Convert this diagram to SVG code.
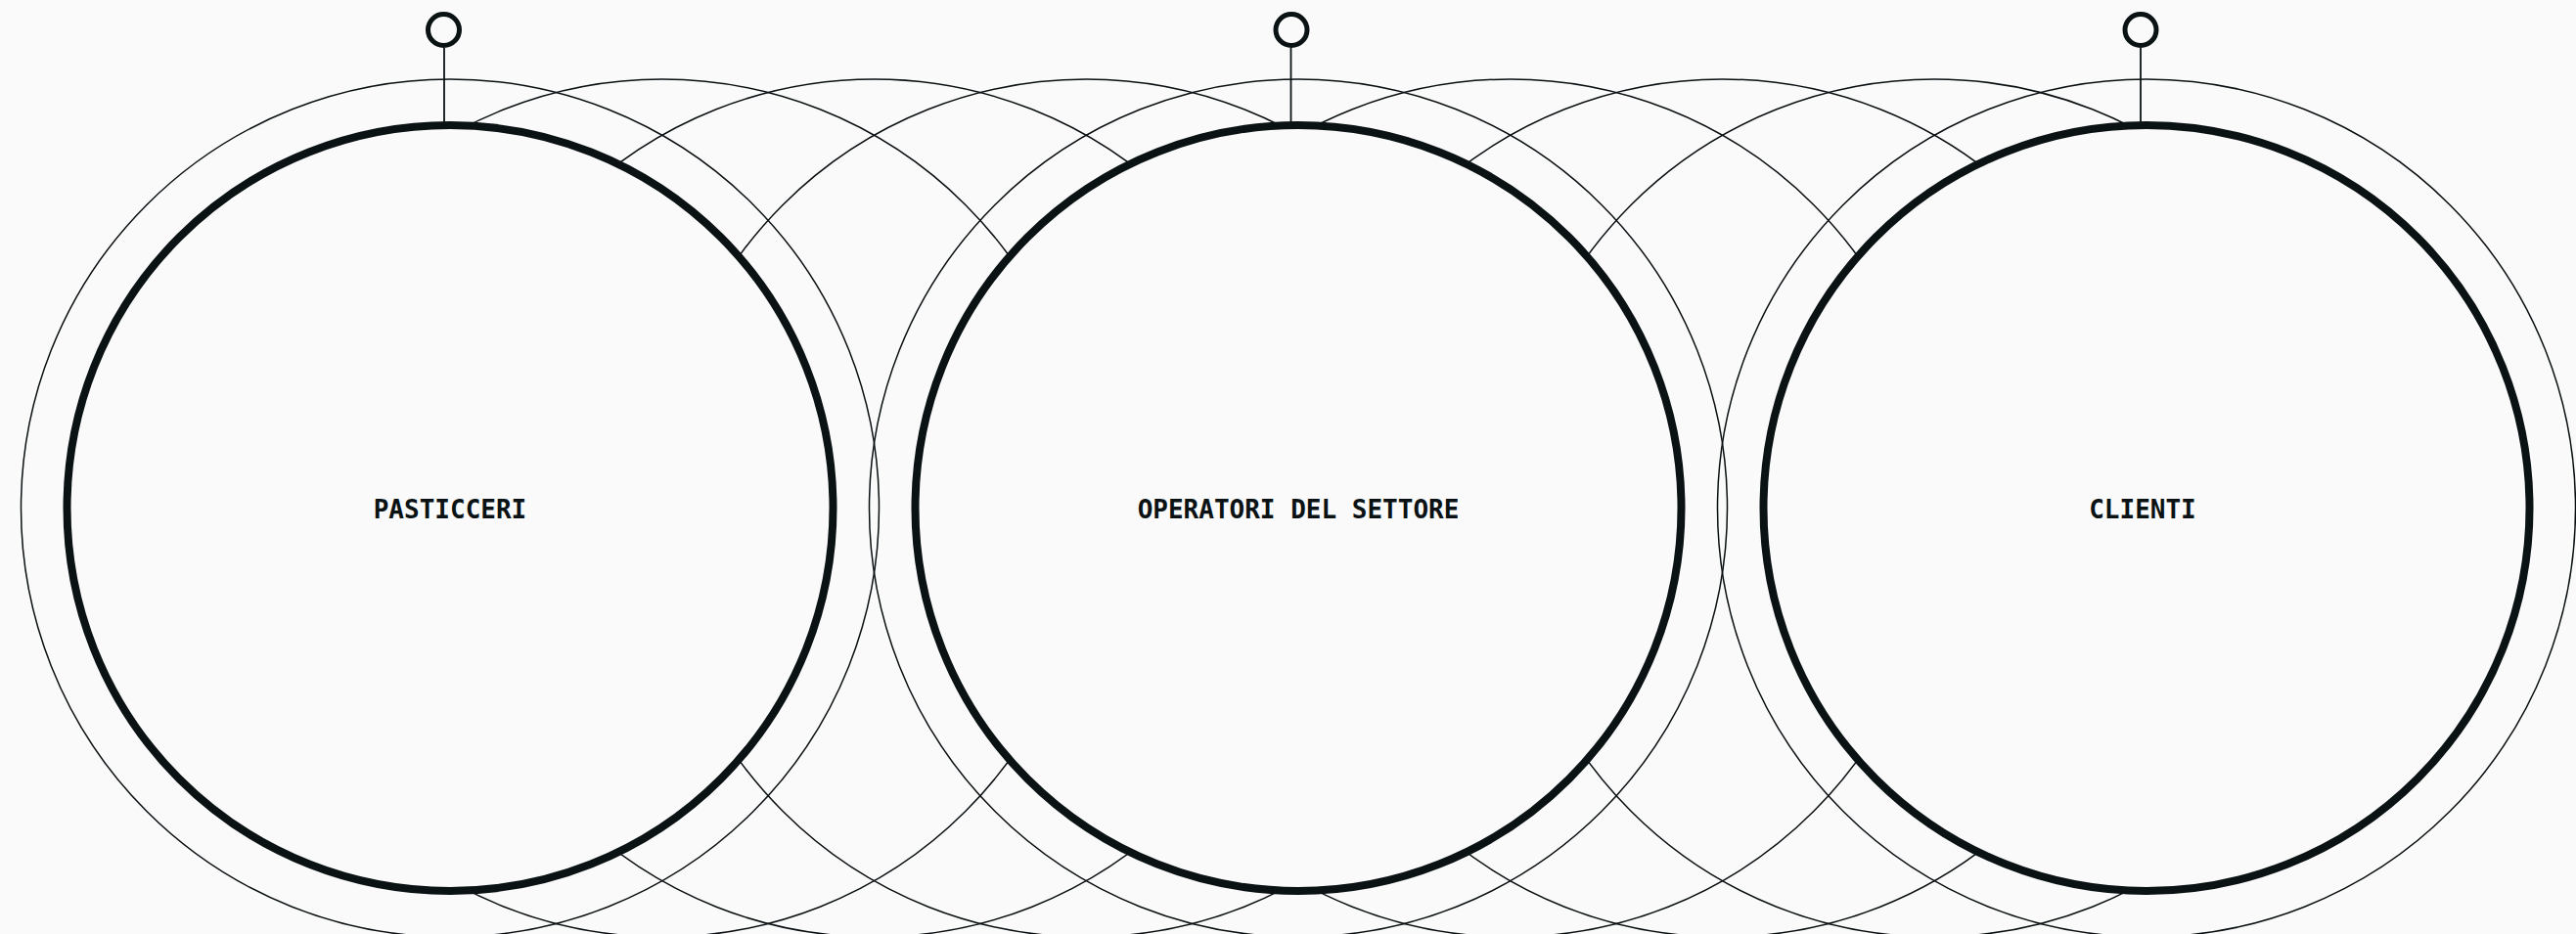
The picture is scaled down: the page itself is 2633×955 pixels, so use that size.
<svg xmlns="http://www.w3.org/2000/svg" width="2633" height="955" viewBox="0 0 2633 955">
<style>
.bg{fill:#fafafa}
.ring{fill:none;stroke:#0a0f12;stroke-width:1.5}
.node{fill:#fafafa;stroke:#0a1214;stroke-width:8}
.pin{fill:none;stroke:#0a1214;stroke-width:5}
.stem{stroke:#0a1214;stroke-width:1.8}
.label{font-family:"DejaVu Sans Mono","Liberation Mono",monospace;font-weight:bold;font-size:26px;fill:#0a1214;text-anchor:middle}
</style>
<rect class="bg" x="0" y="0" width="2633" height="955"/>
<g id="connectors">
<circle class="ring" cx="460" cy="519.5" r="438.5"/>
<circle class="ring" cx="676.75" cy="519.5" r="438.5"/>
<circle class="ring" cx="893.5" cy="519.5" r="438.5"/>
<circle class="ring" cx="1110.25" cy="519.5" r="438.5"/>
<circle class="ring" cx="1327" cy="519.5" r="438.5"/>
<circle class="ring" cx="1543.75" cy="519.5" r="438.5"/>
<circle class="ring" cx="1760.5" cy="519.5" r="438.5"/>
<circle class="ring" cx="1977.25" cy="519.5" r="438.5"/>
<circle class="ring" cx="2194" cy="519.5" r="438.5"/>
<line class="stem" x1="454" y1="49" x2="454" y2="128"/>
<line class="stem" x1="1319.5" y1="49" x2="1319.5" y2="128"/>
<line class="stem" x1="2188" y1="49" x2="2188" y2="128"/>
</g>
<g id="node-pasticceri">
<circle class="node" cx="460" cy="519.5" r="391.5"/>
<circle class="pin" cx="453.5" cy="30.5" r="16"/>
<text class="label" x="460" y="530">PASTICCERI</text>
</g>
<g id="node-operatori">
<circle class="node" cx="1327" cy="519.5" r="391.5"/>
<circle class="pin" cx="1320" cy="30.5" r="16"/>
<text class="label" x="1327" y="530">OPERATORI DEL SETTORE</text>
</g>
<g id="node-clienti">
<circle class="node" cx="2194" cy="519.5" r="391.5"/>
<circle class="pin" cx="2188" cy="30.5" r="16"/>
<text class="label" x="2190" y="530">CLIENTI</text>
</g>
</svg>
